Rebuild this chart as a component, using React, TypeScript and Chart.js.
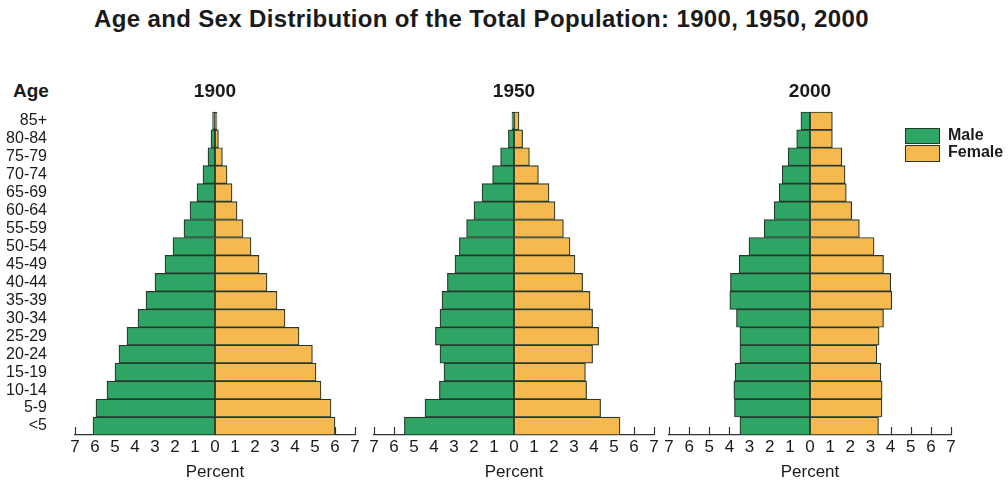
import React, { useEffect, useRef } from "react";
import { Chart, registerables } from "chart.js";

Chart.register(...registerables);

const FONT = "'Liberation Sans', Arial, Helvetica, sans-serif";
Chart.defaults.font.family = FONT;

// Age groups, youngest first (drawn bottom-up)
const ageGroups = [
  "<5", "5-9", "10-14", "15-19", "20-24", "25-29", "30-34", "35-39", "40-44",
  "45-49", "50-54", "55-59", "60-64", "65-69", "70-74", "75-79", "80-84", "85+",
];

// Percent of total population, youngest first
const male1900 = [6.1, 5.95, 5.4, 5.0, 4.8, 4.4, 3.85, 3.45, 3.0, 2.5, 2.1, 1.55, 1.25, 0.9, 0.6, 0.35, 0.2, 0.12];
const female1900 = [6.0, 5.8, 5.3, 5.05, 4.87, 4.2, 3.5, 3.1, 2.6, 2.2, 1.8, 1.4, 1.1, 0.85, 0.6, 0.37, 0.17, 0.1];

const male1950 = [5.48, 4.45, 3.73, 3.5, 3.7, 3.93, 3.7, 3.6, 3.33, 2.95, 2.73, 2.37, 2.0, 1.6, 1.07, 0.67, 0.28, 0.1];
const female1950 = [5.3, 4.33, 3.63, 3.57, 3.93, 4.23, 3.93, 3.8, 3.43, 3.05, 2.8, 2.47, 2.05, 1.75, 1.22, 0.77, 0.43, 0.25];

const male2000 = [3.48, 3.75, 3.78, 3.72, 3.48, 3.48, 3.65, 3.98, 3.95, 3.52, 3.03, 2.27, 1.78, 1.53, 1.38, 1.08, 0.66, 0.45];
const female2000 = [3.4, 3.57, 3.58, 3.52, 3.32, 3.43, 3.65, 4.06, 4.01, 3.65, 3.18, 2.45, 2.07, 1.8, 1.74, 1.58, 1.11, 1.11];

const years = ["1900", "1950", "2000"];
const seriesNames = ["Male", "Female"];
const percentMax = 7;

const GREEN = "#2ea565";
const ORANGE = "#f6b94f";
const EDGE = "#25382c";
const INK = "#1a1a1a";

const tickMarks = {
  id: "tickMarks",
  beforeDatasetsDraw(chart: any) {
    const x = chart.scales.x;
    const ctx = chart.ctx;
    ctx.save();
    ctx.strokeStyle = "#333";
    ctx.lineWidth = 1.2;
    x.ticks.forEach((t: any) => {
      const px = Math.round(x.getPixelForValue(t.value)) + 0.5;
      ctx.beginPath();
      ctx.moveTo(px, x.top);
      ctx.lineTo(px, x.top - 8);
      ctx.stroke();
    });
    ctx.restore();
  },
};

type PanelProps = {
  year: string;
  male: number[];
  female: number[];
  showAge: boolean;
  left: number;
  width: number;
};

function Panel({ year, male, female, showAge, left, width }: PanelProps) {
  const ref = useRef<HTMLCanvasElement | null>(null);
  useEffect(() => {
    if (!ref.current) return;
    const chart = new Chart(ref.current, {
      type: "bar",
      data: {
        labels: ageGroups,
        datasets: [
          {
            label: seriesNames[0],
            data: male.map((v) => -v),
            backgroundColor: GREEN,
            borderColor: EDGE,
            borderWidth: 1.2,
            borderSkipped: false,
            barPercentage: 1,
            categoryPercentage: 1,
          },
          {
            label: seriesNames[1],
            data: female,
            backgroundColor: ORANGE,
            borderColor: EDGE,
            borderWidth: 1.2,
            borderSkipped: false,
            barPercentage: 1,
            categoryPercentage: 1,
          },
        ],
      },
      options: {
        indexAxis: "y",
        responsive: false,
        animation: false,
        layout: { padding: { left: showAge ? 0 : 12, right: 12, top: 0, bottom: 0 } },
        plugins: {
          legend: { display: false },
          tooltip: { enabled: false },
          title: {
            display: true,
            text: year,
            fullSize: false,
            color: INK,
            font: { size: 19, weight: "bold", family: FONT },
            padding: { top: 10, bottom: 9 },
          },
        },
        scales: {
          x: {
            type: "linear",
            min: -percentMax,
            max: percentMax,
            stacked: true,
            grid: { display: false, drawTicks: false },
            border: { display: true, color: "#333", width: 1.3 },
            ticks: {
              stepSize: 1,
              autoSkip: false,
              maxRotation: 0,
              padding: 2,
              color: INK,
              font: { size: 17 },
              callback: (v: any) => String(Math.abs(Number(v))),
            },
            title: {
              display: true,
              text: "Percent",
              color: INK,
              font: { size: 17 },
              padding: { top: 0, bottom: 1 },
            },
            afterFit: (s: any) => {
              s.height = 49;
            },
          },
          y: {
            type: "category",
            stacked: true,
            reverse: true,
            display: showAge,
            grid: { display: false, drawTicks: false },
            border: { display: false },
            ticks: { padding: 28, color: INK, font: { size: 16 }, autoSkip: false },
            afterFit: (s: any) => {
              s.width = showAge ? 75 : 0;
            },
          },
        },
      } as any,
      plugins: [tickMarks],
    });
    return () => chart.destroy();
  }, [year, male, female, showAge]);

  return (
    <canvas
      ref={ref}
      width={width}
      height={414}
      style={{ position: "absolute", left, top: 70, width, height: 414 }}
    />
  );
}

export default function App() {
  useEffect(() => {
    document.body.style.margin = "0";
  }, []);
  return (
    <div
      style={{
        position: "fixed",
        left: 0,
        top: 0,
        width: 1008,
        height: 484,
        background: "#fff",
        fontFamily: FONT,
        color: INK,
        overflow: "hidden",
      }}
    >
      <div
        style={{
          position: "absolute",
          left: 0,
          top: 7,
          width: 963,
          textAlign: "center",
          fontSize: 24,
          lineHeight: "24px",
          fontWeight: "bold",
          letterSpacing: 0.35,
          whiteSpace: "nowrap",
        }}
      >
        Age and Sex Distribution of the Total Population: 1900, 1950, 2000
      </div>
      <div
        style={{
          position: "absolute",
          left: 13,
          top: 81,
          fontSize: 19,
          lineHeight: "19px",
          fontWeight: "bold",
        }}
      >
        Age
      </div>
      <Panel year={years[0]} male={male1900} female={female1900} showAge={true} left={0} width={367} />
      <Panel year={years[1]} male={male1950} female={female1950} showAge={false} left={362} width={304} />
      <Panel year={years[2]} male={male2000} female={female2000} showAge={false} left={657} width={306} />
      <div
        style={{
          position: "absolute",
          left: 905,
          top: 128,
          width: 35,
          height: 16,
          boxSizing: "border-box",
          background: GREEN,
          border: `1.5px solid ${EDGE}`,
        }}
      />
      <div
        style={{
          position: "absolute",
          left: 905,
          top: 145,
          width: 35,
          height: 17,
          boxSizing: "border-box",
          background: ORANGE,
          border: `1.5px solid ${EDGE}`,
        }}
      />
      <div style={{ position: "absolute", left: 948, top: 126.5, fontSize: 16, lineHeight: "16px", fontWeight: "bold" }}>
        {seriesNames[0]}
      </div>
      <div style={{ position: "absolute", left: 948, top: 143.5, fontSize: 16, lineHeight: "16px", fontWeight: "bold" }}>
        {seriesNames[1]}
      </div>
    </div>
  );
}
